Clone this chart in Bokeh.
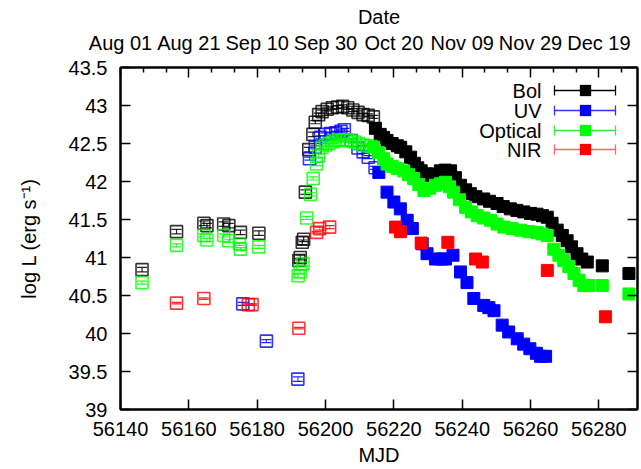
from bokeh.plotting import figure
from bokeh.models import (ColumnDataSource, LinearAxis, FixedTicker, Range1d,
                          Label, Arrow, TeeHead, BoxAnnotation)
from bokeh.embed import file_html
from bokeh.resources import INLINE

# ---------------- data ----------------
# Bolometric: early (open squares, with error bars) and late (filled)
bol_open_mjd = [56146.3, 56156.4, 56164.4, 56165.3, 56170.2, 56171.7, 56175.1, 56180.5,
                56192.2, 56192.6, 56193.2, 56193.6, 56194.1, 56195.1, 56196.3, 56197.0,
                56198.0, 56199.0, 56200.5, 56202.0, 56203.5, 56205.0, 56206.5, 56208.0,
                56209.5, 56211.0, 56212.5, 56214.0]
bol_open_L = [40.84, 41.34, 41.45, 41.42, 41.44, 41.42, 41.33, 41.32,
              40.96, 41.00, 41.20, 41.24, 41.86, 42.42, 42.62, 42.78,
              42.88, 42.92, 42.95, 42.97, 42.98, 42.99, 42.97, 42.94,
              42.91, 42.88, 42.87, 42.85]
bol_open_err = [0.03, 0.03, 0.03, 0.03, 0.03, 0.03, 0.03, 0.03,
                0.03, 0.03, 0.03, 0.03, 0.03, 0.03, 0.03, 0.02,
                0.02, 0.02, 0.02, 0.02, 0.02, 0.02, 0.02, 0.02,
                0.02, 0.02, 0.02, 0.02]
bol_mjd = [56214.6, 56216.0, 56217.0, 56218.0, 56219.5, 56221.0, 56222.0, 56223.5,
           56224.9, 56226.0, 56227.0, 56228.0, 56229.5, 56230.7, 56232.0, 56233.6,
           56235.0, 56236.6, 56238.0, 56239.5, 56241.0, 56242.4, 56244.0, 56246.3,
           56248.0, 56250.2, 56252.0, 56254.1, 56256.0, 56258.0, 56260.0, 56261.9,
           56263.5, 56264.9, 56266.3, 56267.8, 56269.3, 56270.7, 56272.0, 56273.6,
           56275.0, 56276.6, 56281.0, 56288.8]
bol_L = [42.70, 42.62, 42.58, 42.54, 42.50, 42.47, 42.45, 42.39,
         42.32, 42.24, 42.18, 42.14, 42.10, 42.08, 42.10, 42.14,
         42.15, 42.14, 42.05, 41.95, 41.89, 41.84, 41.80, 41.77,
         41.74, 41.71, 41.67, 41.64, 41.62, 41.60, 41.58, 41.57,
         41.55, 41.53, 41.45, 41.36, 41.29, 41.22, 41.14, 41.05,
         40.98, 40.94, 40.89, 40.79]

# UV
uv_open_mjd = [56175.8, 56182.7, 56191.9, 56195.3, 56197.0, 56198.5, 56200.0, 56201.5,
               56203.0, 56204.5, 56205.5, 56207.5, 56209.5, 56211.0, 56212.5, 56214.5]
uv_open_L = [40.39, 39.90, 39.40, 42.30, 42.45, 42.58, 42.62, 42.63,
             42.64, 42.66, 42.68, 42.54, 42.44, 42.39, 42.32, 42.18]
uv_open_err = [0.02, 0.02, 0.03, 0.02, 0.02, 0.02, 0.02, 0.02,
               0.02, 0.02, 0.02, 0.02, 0.02, 0.02, 0.02, 0.02]
uv_mjd = [56215.6, 56218.0, 56220.0, 56221.9, 56223.9, 56225.4, 56228.3, 56229.7,
          56232.2, 56234.0, 56235.1, 56237.3, 56239.5, 56241.4, 56243.4, 56246.3,
          56247.8, 56249.3, 56251.7, 56253.6, 56256.1, 56258.0, 56259.8, 56261.7,
          56262.9, 56264.4]
uv_L = [42.12, 41.86, 41.73, 41.64, 41.49, 41.38, 41.18, 41.05,
        40.98, 40.98, 40.98, 41.03, 40.81, 40.67, 40.46, 40.37,
        40.34, 40.30, 40.11, 40.02, 39.93, 39.86, 39.80, 39.74,
        39.70, 39.70]

# Optical
opt_open_mjd = [56146.3, 56156.4, 56164.4, 56165.3, 56170.2, 56171.7, 56174.8, 56175.1,
                56180.5, 56192.0, 56192.6, 56193.4, 56194.5, 56195.6, 56196.4, 56197.4,
                56198.0, 56199.0, 56200.0, 56201.0, 56202.0, 56203.0, 56204.0, 56205.0,
                56206.2, 56207.3, 56208.5, 56209.7, 56211.0, 56212.2, 56213.5]
opt_open_L = [40.67, 41.16, 41.29, 41.23, 41.29, 41.22, 41.18, 41.11,
              41.14, 40.76, 40.81, 40.92, 41.52, 41.83, 42.04, 42.23,
              42.34, 42.45, 42.48, 42.50, 42.52, 42.54, 42.55, 42.54,
              42.55, 42.54, 42.52, 42.50, 42.48, 42.47, 42.46]
opt_open_err = [0.02] * len(opt_open_mjd)
opt_mjd = [56214.1, 56215.5, 56217.0, 56218.0, 56219.5, 56221.0, 56222.9, 56224.3,
           56225.8, 56227.3, 56228.8, 56230.5, 56232.2, 56233.6, 56235.1, 56236.3,
           56237.5, 56239.2, 56241.0, 56242.7, 56244.4, 56246.3, 56248.3, 56250.2,
           56252.2, 56254.6, 56257.1, 56259.5, 56261.9, 56263.4, 56264.9, 56266.8,
           56268.3, 56269.7, 56271.2, 56272.7, 56274.2, 56275.6, 56277.0, 56281.0,
           56288.8]
opt_L = [42.45, 42.38, 42.30, 42.23, 42.20, 42.17, 42.14, 42.09,
         42.04, 41.96, 41.88, 41.91, 41.95, 41.97, 41.99, 41.93,
         41.86, 41.76, 41.66, 41.60, 41.55, 41.52, 41.49, 41.44,
         41.40, 41.38, 41.36, 41.34, 41.33, 41.31, 41.29, 41.11,
         41.03, 40.96, 40.88, 40.79, 40.70, 40.63, 40.63, 40.63,
         40.52]

# NIR
nir_open_mjd = [56156.4, 56164.4, 56177.4, 56178.5, 56192.2, 56197.4, 56198.3, 56201.2]
nir_open_L = [40.40, 40.46, 40.38, 40.38, 40.07, 41.33, 41.38, 41.40]
nir_open_err = [0.01, 0.01, 0.01, 0.01, 0.01, 0.01, 0.02, 0.02]
nir_mjd = [56220.5, 56221.9, 56228.0, 56235.8, 56243.9, 56245.9, 56264.9, 56281.9]
nir_L = [41.40, 41.34, 41.19, 41.20, 40.98, 40.94, 40.83, 40.22]

series_names = ["Bol", "UV", "Optical", "NIR"]
series_colors = ["#000000", "#0000ff", "#00ff00", "#ff0000"]
legend_line_colors = ["#000000", "#3333ff", "#33ee33", "#ff6666"]

x_ticks = [56140, 56160, 56180, 56200, 56220, 56240, 56260, 56280]
x_tick_labels = ["56140", "56160", "56180", "56200", "56220", "56240", "56260", "56280"]
date_tick_labels = ["Aug 01", "Aug 21", "Sep 10", "Sep 30", "Oct 20", "Nov 09", "Nov 29", "Dec 19"]
y_ticks = [39.0, 39.5, 40.0, 40.5, 41.0, 41.5, 42.0, 42.5, 43.0, 43.5]
y_tick_labels = ["39", "39.5", "40", "40.5", "41", "41.5", "42", "42.5", "43", "43.5"]

# ---------------- figure ----------------
FONT = "Liberation Sans"
FS = "20px"

p = figure(width=641, height=469, output_backend="svg", toolbar_location=None,
           x_range=Range1d(56140, 56291.3), y_range=Range1d(39, 43.5),
           min_border_left=120, min_border_right=4, min_border_top=67,
           min_border_bottom=60, background_fill_color="white",
           border_fill_color="white")
p.outline_line_color = "black"
p.outline_line_width = 2
p.xgrid.visible = False
p.ygrid.visible = False


def style_axis(ax):
    ax.axis_line_width = 2
    ax.axis_line_color = "black"
    ax.major_tick_in = 10
    ax.major_tick_out = 0
    ax.minor_tick_in = 0
    ax.minor_tick_out = 0
    ax.major_tick_line_width = 1.5
    ax.major_tick_line_color = "black"
    ax.major_label_text_font = FONT
    ax.major_label_text_font_size = FS
    ax.major_label_text_color = "black"
    ax.axis_label_text_font = FONT
    ax.axis_label_text_font_size = FS
    ax.axis_label_text_font_style = "normal"
    ax.axis_label_text_color = "black"


# bottom axis
bx = p.xaxis[0]
style_axis(bx)
bx.ticker = FixedTicker(ticks=x_ticks, minor_ticks=[])
bx.major_label_overrides = dict(zip(x_ticks, x_tick_labels))
bx.axis_label = "MJD"
bx.major_label_standoff = 12
bx.axis_label_standoff = 5

# left axis
ly = p.yaxis[0]
style_axis(ly)
ly.ticker = FixedTicker(ticks=y_ticks, minor_ticks=[])
ly.major_label_overrides = dict(zip(y_ticks, y_tick_labels))
ly.axis_label = "log L (erg s\u207b\u00b9)"
ly.major_label_standoff = 13
ly.axis_label_standoff = 26

# top axis with dates
minor_x = []
for t in x_ticks + [56300]:
    minor_x += [t - 20 * 2 / 3.0, t - 20 / 3.0]
tx = LinearAxis(ticker=FixedTicker(ticks=x_ticks, minor_ticks=minor_x),
                major_label_overrides=dict(zip(x_ticks, date_tick_labels)),
                axis_label="Date")
style_axis(tx)
tx.minor_tick_in = 5
tx.minor_tick_line_width = 1.5
tx.minor_tick_line_color = "black"
tx.major_label_standoff = 14
tx.axis_label_standoff = 1
p.add_layout(tx, "above")

# right axis (ticks only)
ry = LinearAxis(ticker=FixedTicker(ticks=y_ticks, minor_ticks=[]))
style_axis(ry)
ry.major_label_text_color = None
ry.major_label_standoff = 0
p.add_layout(ry, "right")

# ---------------- data glyphs ----------------
groups = [
    (bol_open_mjd, bol_open_L, bol_open_err, bol_mjd, bol_L),
    (uv_open_mjd, uv_open_L, uv_open_err, uv_mjd, uv_L),
    (opt_open_mjd, opt_open_L, opt_open_err, opt_mjd, opt_L),
    (nir_open_mjd, nir_open_L, nir_open_err, nir_mjd, nir_L),
]

for (om, oL, oe, fm, fL), col, lcol in zip(groups, series_colors, legend_line_colors):
    lo = [l - e for l, e in zip(oL, oe)]
    hi = [l + e for l, e in zip(oL, oe)]
    osrc = ColumnDataSource(dict(x=om, y=oL, lo=lo, hi=hi))
    fsrc = ColumnDataSource(dict(x=fm, y=fL))
    p.segment(x0="x", y0="lo", x1="x", y1="hi", source=osrc,
              line_color=lcol, line_width=1.2, line_alpha=0.85)
    p.scatter(x="x", y="lo", source=osrc, marker="dash", size=10,
              line_color=col, line_width=1.2, line_alpha=0.85)
    p.scatter(x="x", y="hi", source=osrc, marker="dash", size=10,
              line_color=col, line_width=1.2, line_alpha=0.85)
    p.scatter(x="x", y="y", source=osrc, marker="square", size=12,
              fill_color=None, line_color=col, line_width=1.6, line_alpha=0.8)
    p.scatter(x="x", y="y", source=fsrc, marker="square", size=12,
              fill_color=col, line_color=col)

# ---------------- key (screen units, relative to the plot frame) ----------------
key_rows = [319, 299, 279, 260]
key_text_right = 421
key_bar = (434, 495)
key_mark_x = 465
key_half = 5.5

for name, col, lcol, yy in zip(series_names, series_colors, legend_line_colors, key_rows):
    p.add_layout(Label(x=key_text_right, y=yy, x_units="screen", y_units="screen",
                       text=name, text_align="right", text_baseline="middle",
                       text_font=FONT, text_font_size=FS, text_color="black"))
    p.add_layout(Arrow(x_start=key_bar[0], y_start=yy, x_end=key_bar[1], y_end=yy,
                       start_units="screen", end_units="screen",
                       line_color=lcol, line_width=1.3,
                       start=TeeHead(size=10, line_color=lcol, line_width=1.3),
                       end=TeeHead(size=10, line_color=lcol, line_width=1.3)))
    p.add_layout(BoxAnnotation(left=key_mark_x - key_half, right=key_mark_x + key_half,
                               bottom=yy - key_half, top=yy + key_half,
                               left_units="screen", right_units="screen",
                               bottom_units="screen", top_units="screen",
                               fill_color=col, fill_alpha=1.0, line_color=col,
                               line_width=1))

open("out.html", "w").write(file_html(p, INLINE))
